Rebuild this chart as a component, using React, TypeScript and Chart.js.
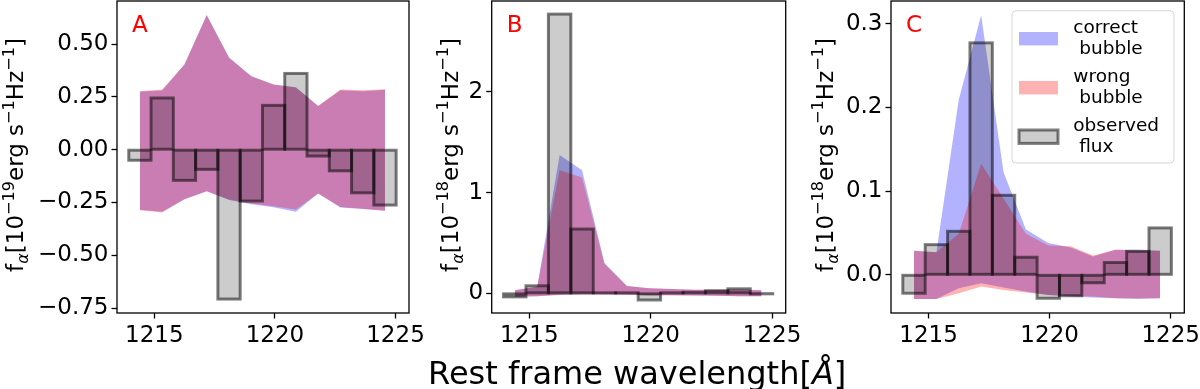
import React, { useEffect, useRef } from 'react';
import { Chart, registerables } from 'chart.js';

Chart.register(...registerables);

const FONT = "'DejaVu Sans', 'Liberation Sans', sans-serif";

// ---------------- data ----------------
const wavelength = [1214.4, 1215.324, 1216.248, 1217.172, 1218.096, 1219.02, 1219.944, 1220.868, 1221.792, 1222.716, 1223.64, 1224.564];
const xTicks = [1215, 1220, 1225];

// Panel A (10^-19)
const observedA = [-0.05, 0.245, -0.145, -0.093, -0.707, -0.243, 0.21, 0.361, -0.03, -0.1, -0.204, -0.262];
const correctUpA = [0.275, 0.28, 0.404, 0.638, 0.437, 0.349, 0.309, 0.296, 0.207, 0.281, 0.277, 0.284];
const correctLoA = [-0.284, -0.294, -0.235, -0.197, -0.238, -0.258, -0.272, -0.294, -0.207, -0.273, -0.281, -0.289];
const wrongUpA = [0.277, 0.285, 0.402, 0.636, 0.435, 0.347, 0.309, 0.294, 0.207, 0.285, 0.281, 0.286];
const wrongLoA = [-0.286, -0.297, -0.235, -0.197, -0.236, -0.255, -0.268, -0.283, -0.207, -0.271, -0.279, -0.289];
const yTicksA = [-0.75, -0.5, -0.25, 0, 0.25, 0.5];

// Panel B (10^-18)
const observedB = [-0.035, 0.075, 2.77, 0.638, 0.005, 0.004, -0.066, 0.004, 0.01, 0.025, 0.045, -0.003];
const correctUpB = [0.03, 0.066, 1.372, 1.22, 0.3, 0.073, 0.05, 0.043, 0.036, 0.035, 0.036, 0.03];
const correctLoB = [-0.033, -0.028, -0.015, -0.01, -0.012, -0.015, -0.018, -0.02, -0.022, -0.025, -0.028, -0.03];
const wrongUpB = [0.03, 0.066, 1.22, 1.15, 0.29, 0.073, 0.05, 0.043, 0.036, 0.035, 0.036, 0.03];
const wrongLoB = [-0.033, -0.028, -0.016, -0.011, -0.012, -0.015, -0.018, -0.02, -0.022, -0.025, -0.028, -0.03];
const yTicksB = [0, 1, 2];

// Panel C (10^-18)
const observedC = [-0.022, 0.036, 0.052, 0.277, 0.095, 0.021, -0.028, -0.025, -0.0095, 0.0147, 0.028, 0.056];
const correctUpC = [0.0286, 0.027, 0.209, 0.31, 0.1226, 0.054, 0.038, 0.0325, 0.022, 0.03, 0.03, 0.0286];
const correctLoC = [-0.029, -0.029, -0.016, -0.01, -0.015, -0.02, -0.024, -0.026, -0.027, -0.028, -0.029, -0.028];
const wrongUpC = [0.0286, 0.027, 0.049, 0.1325, 0.091, 0.049, 0.035, 0.034, 0.023, 0.03, 0.029, 0.0286];
const wrongLoC = [-0.029, -0.029, -0.022, -0.014, -0.018, -0.021, -0.024, -0.025, -0.026, -0.028, -0.028, -0.028];
const yTicksC = [0, 0.1, 0.2, 0.3];

const legendLabels = ['correct\n bubble', 'wrong\n bubble', 'observed\n flux'];
const xTitleText = ['Rest frame wavelength[', 'Å', ']'];

// ---------------- styles ----------------
const BLUE = 'rgba(0,0,255,0.3)';
const RED = 'rgba(255,0,0,0.3)';
const BAR_FILL = 'rgba(0,0,0,0.2)';
const BAR_EDGE = 'rgba(0,0,0,0.5)';
const TICK_SIZE = 23;

type Panel = {
  letter: string;
  exponent: string;
  left: number;
  width: number;
  plotLeft: number;
  plotRight: number;
  yMin: number;
  yMax: number;
  yTicks: number[];
  decimals: number;
  observed: number[];
  correctUp: number[];
  correctLo: number[];
  wrongUp: number[];
  wrongLo: number[];
  titleGap: number;
  legend: boolean;
  xTitle: boolean;
};

const panels: Panel[] = [
  {
    letter: 'A', exponent: '19', left: 0, width: 440, plotLeft: 117, plotRight: 409,
    yMin: -0.773, yMax: 0.704, yTicks: yTicksA, decimals: 2,
    observed: observedA, correctUp: correctUpA, correctLo: correctLoA, wrongUp: wrongUpA, wrongLo: wrongLoA,
    titleGap: 93.7, legend: false, xTitle: false,
  },
  {
    letter: 'B', exponent: '18', left: 415, width: 450, plotLeft: 76.7, plotRight: 370.7,
    yMin: -0.195, yMax: 2.9, yTicks: yTicksB, decimals: 0,
    observed: observedB, correctUp: correctUpB, correctLo: correctLoB, wrongUp: wrongUpB, wrongLo: wrongLoB,
    titleGap: 33.7, legend: false, xTitle: true,
  },
  {
    letter: 'C', exponent: '18', left: 790, width: 410, plotLeft: 101, plotRight: 394.3,
    yMin: -0.0456, yMax: 0.327, yTicks: yTicksC, decimals: 1,
    observed: observedC, correctUp: correctUpC, correctLo: correctLoC, wrongUp: wrongUpC, wrongLo: wrongLoC,
    titleGap: 58, legend: true, xTitle: false,
  },
];

const X_MIN = 1213.45;
const X_MAX = 1225.56;

function fmt(v: number, d: number) {
  return v.toFixed(d).replace('-', '\u2212');
}

type Seg = { t: string; scale: number; dy: number; italic?: boolean };

function drawRich(ctx: CanvasRenderingContext2D, segs: Seg[], size: number, cx: number) {
  let total = 0;
  for (const s of segs) {
    ctx.font = `${s.italic ? 'italic ' : ''}${size * s.scale}px ${FONT}`;
    total += ctx.measureText(s.t).width;
  }
  let x = cx - total / 2;
  ctx.textAlign = 'left';
  ctx.textBaseline = 'alphabetic';
  for (const s of segs) {
    ctx.font = `${s.italic ? 'italic ' : ''}${size * s.scale}px ${FONT}`;
    ctx.fillText(s.t, x, s.dy * size);
    x += ctx.measureText(s.t).width;
  }
}

function drawYTitle(ctx: CanvasRenderingContext2D, exponent: string, baseX: number, centerY: number) {
  const size = 23;
  const segs: Seg[] = [
    { t: 'f', scale: 1, dy: 0 },
    { t: 'α', scale: 0.7, dy: 0.2, italic: true },
    { t: '[10', scale: 1, dy: 0 },
    { t: '\u2212' + exponent, scale: 0.7, dy: -0.42 },
    { t: 'erg s', scale: 1, dy: 0 },
    { t: '\u22121', scale: 0.7, dy: -0.42 },
    { t: 'Hz', scale: 1, dy: 0 },
    { t: '\u22121', scale: 0.7, dy: -0.42 },
    { t: ']', scale: 1, dy: 0 },
  ];
  ctx.save();
  ctx.translate(baseX, centerY);
  ctx.rotate(-Math.PI / 2);
  ctx.fillStyle = '#000';
  drawRich(ctx, segs, size, 0);
  ctx.restore();
}

function drawXTitle(ctx: CanvasRenderingContext2D, cx: number, baseY: number) {
  ctx.save();
  ctx.translate(0, baseY);
  ctx.fillStyle = '#000';
  drawRich(ctx, [
    { t: xTitleText[0], scale: 1, dy: 0 },
    { t: xTitleText[1], scale: 1, dy: 0, italic: true },
    { t: xTitleText[2], scale: 1, dy: 0 },
  ], 32, cx);
  ctx.restore();
}

function roundRectPath(ctx: CanvasRenderingContext2D, x: number, y: number, w: number, h: number, r: number) {
  ctx.beginPath();
  ctx.moveTo(x + r, y);
  ctx.lineTo(x + w - r, y);
  ctx.arcTo(x + w, y, x + w, y + r, r);
  ctx.lineTo(x + w, y + h - r);
  ctx.arcTo(x + w, y + h, x + w - r, y + h, r);
  ctx.lineTo(x + r, y + h);
  ctx.arcTo(x, y + h, x, y + h - r, r);
  ctx.lineTo(x, y + r);
  ctx.arcTo(x, y, x + r, y, r);
  ctx.closePath();
}

function drawLegend(ctx: CanvasRenderingContext2D, area: { right: number; top: number }) {
  const bx = area.right - 172.3;
  const by = area.top + 9.7;
  const bw = 162;
  const bh = 152.3;
  ctx.save();
  roundRectPath(ctx, bx, by, bw, bh, 4);
  ctx.fillStyle = 'rgba(255,255,255,0.8)';
  ctx.fill();
  ctx.strokeStyle = 'rgba(204,204,204,0.8)';
  ctx.lineWidth = 1;
  ctx.stroke();

  const px = bx + 7;
  const pw = 39;
  const ph = 13.4;
  const colors = [BLUE, RED, BAR_FILL];
  legendLabels.forEach((label, i) => {
    const cy = by + 28 + 49 * i;
    ctx.fillStyle = colors[i];
    ctx.fillRect(px, cy - ph / 2, pw, ph);
    if (i === 2) {
      ctx.strokeStyle = BAR_EDGE;
      ctx.lineWidth = 3;
      ctx.strokeRect(px, cy - ph / 2, pw, ph);
    }
    ctx.fillStyle = '#000';
    ctx.font = `18.5px ${FONT}`;
    ctx.textAlign = 'left';
    ctx.textBaseline = 'alphabetic';
    const lines = label.split('\n');
    lines.forEach((ln, j) => {
      ctx.fillText(ln, bx + 61.3, by + 22.3 + 49 * i + 20.5 * j);
    });
  });
  ctx.restore();
}

function makeDecor(p: Panel) {
  return {
    id: 'decor' + p.letter,
    afterDatasetsDraw(chart: any) {
      const meta = chart.getDatasetMeta(4);
      const ctx: CanvasRenderingContext2D = chart.ctx;
      const a = chart.chartArea;
      ctx.save();
      ctx.beginPath();
      ctx.rect(a.left, a.top, a.right - a.left, a.bottom - a.top);
      ctx.clip();
      ctx.lineWidth = 3;
      ctx.strokeStyle = BAR_EDGE;
      for (const el of meta.data) {
        const pr = el.getProps(['x', 'y', 'base', 'width'], true);
        const top = Math.min(pr.y, pr.base);
        const h = Math.abs(pr.base - pr.y);
        ctx.strokeRect(pr.x - pr.width / 2, top, pr.width, h);
      }
      ctx.restore();
    },
    afterDraw(chart: any) {
      const ctx: CanvasRenderingContext2D = chart.ctx;
      const a = chart.chartArea;
      ctx.save();
      ctx.strokeStyle = '#000';
      ctx.lineWidth = 1.3;
      ctx.strokeRect(a.left, a.top, a.right - a.left, a.bottom - a.top);

      ctx.fillStyle = '#ff0000';
      ctx.font = `23px ${FONT}`;
      ctx.textAlign = 'left';
      ctx.textBaseline = 'alphabetic';
      ctx.fillText(p.letter, a.left + 15, 32);

      drawYTitle(ctx, p.exponent, a.left - p.titleGap, (a.top + a.bottom) / 2 - 2);
      if (p.xTitle) drawXTitle(ctx, (a.left + a.right) / 2 - 1.5, 383.5);
      if (p.legend) drawLegend(ctx, a);
      ctx.restore();
    },
  };
}

function lineDs(vals: number[], fill: any, color: string, order: number) {
  return {
    type: 'line' as const,
    data: wavelength.map((x, i) => ({ x, y: vals[i] })),
    borderColor: 'rgba(0,0,0,0)',
    borderWidth: 0,
    backgroundColor: color,
    pointRadius: 0,
    tension: 0,
    fill,
    order,
  };
}

function buildConfig(p: Panel): any {
  const tickFont = { family: FONT, size: TICK_SIZE };
  return {
    type: 'bar',
    data: {
      datasets: [
        lineDs(p.correctLo, false, BLUE, 3),
        lineDs(p.correctUp, '-1', BLUE, 3),
        lineDs(p.wrongLo, false, RED, 2),
        lineDs(p.wrongUp, '-1', RED, 2),
        {
          type: 'bar',
          data: wavelength.map((x, i) => ({ x, y: p.observed[i] })),
          backgroundColor: BAR_FILL,
          borderWidth: 0,
          barPercentage: 1,
          categoryPercentage: 1,
          order: 1,
        },
      ],
    },
    options: {
      responsive: false,
      animation: false,
      events: [],
      layout: { padding: { left: 0, right: p.width - p.plotRight, top: 1, bottom: 0 } },
      plugins: { legend: { display: false }, tooltip: { enabled: false }, title: { display: false } },
      scales: {
        x: {
          type: 'linear',
          min: X_MIN,
          max: X_MAX,
          offset: false,
          afterBuildTicks: (s: any) => { s.ticks = xTicks.map((v) => ({ value: v })); },
          afterFit: (s: any) => { s.height = 76; s.paddingLeft = 0; s.paddingRight = 0; },
          ticks: { font: tickFont, color: '#000', padding: 4, maxRotation: 0, autoSkip: false, callback: (v: number) => String(v) },
          grid: { display: true, offset: false, drawOnChartArea: false, drawTicks: true, tickLength: 5.5, tickWidth: 1.3, tickColor: '#000' },
          border: { display: false },
        },
        y: {
          type: 'linear',
          min: p.yMin,
          max: p.yMax,
          afterBuildTicks: (s: any) => { s.ticks = p.yTicks.map((v) => ({ value: v })); },
          afterFit: (s: any) => { s.width = p.plotLeft; s.paddingTop = 0; s.paddingBottom = 0; },
          ticks: { font: tickFont, color: '#000', padding: 3, autoSkip: false, callback: (v: number) => fmt(v, p.decimals) },
          grid: { display: true, drawOnChartArea: false, drawTicks: true, tickLength: 5.5, tickWidth: 1.3, tickColor: '#000' },
          border: { display: false },
        },
      },
    },
    plugins: [makeDecor(p)],
  };
}

export default function App() {
  const refs = [useRef<HTMLCanvasElement>(null), useRef<HTMLCanvasElement>(null), useRef<HTMLCanvasElement>(null)];

  useEffect(() => {
    const charts = panels.map((p, i) => new Chart(refs[i].current as HTMLCanvasElement, buildConfig(p)));
    return () => charts.forEach((c) => c.destroy());
  }, []);

  return (
    <div style={{ position: 'absolute', left: 0, top: 0, width: 1200, height: 389, background: '#fff', overflow: 'hidden' }}>
      {panels.map((p, i) => (
        <canvas
          key={p.letter}
          ref={refs[i]}
          width={p.width}
          height={389}
          style={{ position: 'absolute', left: p.left, top: 0, width: p.width, height: 389 }}
        />
      ))}
    </div>
  );
}
